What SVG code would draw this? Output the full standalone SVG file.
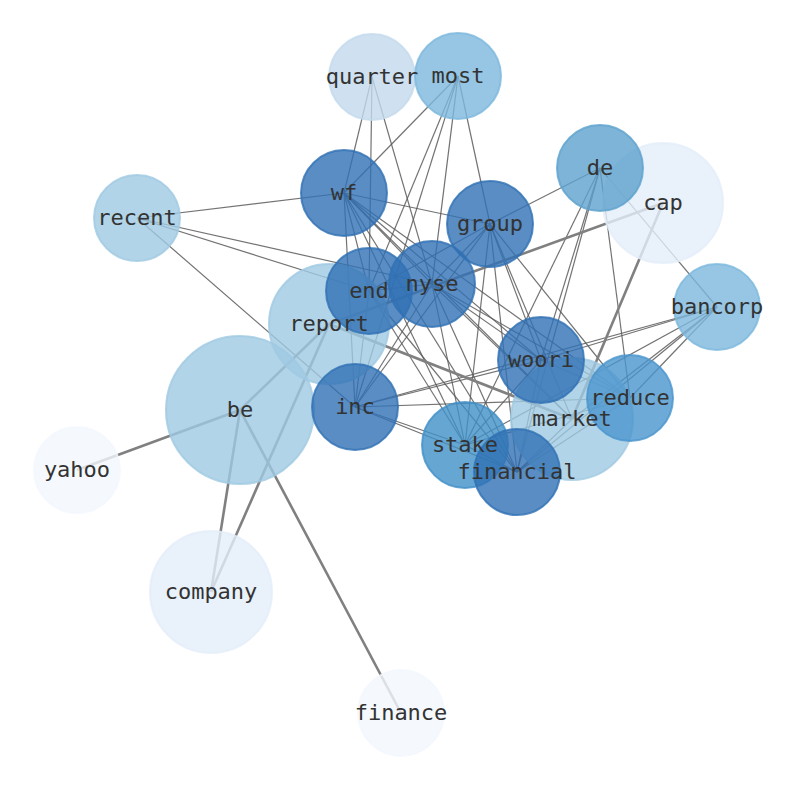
<svg xmlns="http://www.w3.org/2000/svg" width="794" height="790" viewBox="0 0 794 790">
<style>
.e{stroke:#5a5a5a;stroke-width:1.2;fill:none;stroke-opacity:0.85}
.t{stroke:#808080;stroke-width:2.6;fill:none}
.n circle{stroke-width:2;fill-opacity:0.8;stroke-opacity:0.8}
.n text{font-family:"DejaVu Sans Mono","Liberation Mono",monospace;font-size:22px;fill:#333;text-anchor:middle}
.c0 circle{fill:#f2f7fe;stroke:#f2f7fe}
.c1 circle{fill:#e3edf9;stroke:#e3edf9}
.c2 circle{fill:#c3d9ec;stroke:#c3d9ec}
.c3 circle{fill:#9fc9e2;stroke:#9fc9e2}
.c4 circle{fill:#7cb8dd;stroke:#7cb8dd}
.c5 circle{fill:#5ca1cd;stroke:#5ca1cd}
.c6 circle{fill:#4a95cd;stroke:#4a95cd}
.c7 circle{fill:#4090c8;stroke:#4090c8}
.c8 circle{fill:#3070b4;stroke:#3070b4}
</style>
<rect width="794" height="790" fill="#fff"/>
<g id="edges">
<line class="e" x1="372" y1="77" x2="344" y2="193"/>
<line class="e" x1="372" y1="77" x2="369" y2="291"/>
<line class="e" x1="372" y1="77" x2="432" y2="284"/>
<line class="e" x1="458" y1="76" x2="344" y2="193"/>
<line class="e" x1="458" y1="76" x2="369" y2="291"/>
<line class="e" x1="458" y1="76" x2="355" y2="407"/>
<line class="e" x1="458" y1="76" x2="432" y2="284"/>
<line class="e" x1="458" y1="76" x2="490" y2="224"/>
<line class="e" x1="137" y1="218" x2="344" y2="193"/>
<line class="e" x1="137" y1="218" x2="369" y2="291"/>
<line class="e" x1="137" y1="218" x2="432" y2="284"/>
<line class="e" x1="137" y1="218" x2="355" y2="407"/>
<line class="e" x1="344" y1="193" x2="490" y2="224"/>
<line class="e" x1="344" y1="193" x2="369" y2="291"/>
<line class="e" x1="344" y1="193" x2="355" y2="407"/>
<line class="e" x1="344" y1="193" x2="432" y2="284"/>
<line class="e" x1="344" y1="193" x2="541" y2="360"/>
<line class="e" x1="344" y1="193" x2="572" y2="419"/>
<line class="e" x1="344" y1="193" x2="465" y2="445"/>
<line class="e" x1="344" y1="193" x2="517" y2="472"/>
<line class="e" x1="344" y1="193" x2="630" y2="398"/>
<line class="e" x1="490" y1="224" x2="600" y2="168"/>
<line class="e" x1="490" y1="224" x2="432" y2="284"/>
<line class="e" x1="490" y1="224" x2="369" y2="291"/>
<line class="e" x1="490" y1="224" x2="355" y2="407"/>
<line class="e" x1="490" y1="224" x2="541" y2="360"/>
<line class="e" x1="490" y1="224" x2="465" y2="445"/>
<line class="e" x1="490" y1="224" x2="517" y2="472"/>
<line class="e" x1="490" y1="224" x2="572" y2="419"/>
<line class="e" x1="490" y1="224" x2="630" y2="398"/>
<line class="e" x1="600" y1="168" x2="541" y2="360"/>
<line class="e" x1="600" y1="168" x2="465" y2="445"/>
<line class="e" x1="600" y1="168" x2="517" y2="472"/>
<line class="e" x1="600" y1="168" x2="630" y2="398"/>
<line class="e" x1="600" y1="168" x2="717" y2="307"/>
<line class="e" x1="432" y1="284" x2="369" y2="291"/>
<line class="e" x1="432" y1="284" x2="355" y2="407"/>
<line class="e" x1="432" y1="284" x2="541" y2="360"/>
<line class="e" x1="432" y1="284" x2="465" y2="445"/>
<line class="e" x1="432" y1="284" x2="517" y2="472"/>
<line class="e" x1="432" y1="284" x2="572" y2="419"/>
<line class="e" x1="432" y1="284" x2="630" y2="398"/>
<line class="e" x1="369" y1="291" x2="355" y2="407"/>
<line class="e" x1="369" y1="291" x2="465" y2="445"/>
<line class="e" x1="369" y1="291" x2="517" y2="472"/>
<line class="e" x1="355" y1="407" x2="541" y2="360"/>
<line class="e" x1="355" y1="407" x2="630" y2="398"/>
<line class="e" x1="355" y1="407" x2="465" y2="445"/>
<line class="e" x1="355" y1="407" x2="517" y2="472"/>
<line class="e" x1="355" y1="407" x2="717" y2="307"/>
<line class="e" x1="541" y1="360" x2="465" y2="445"/>
<line class="e" x1="541" y1="360" x2="517" y2="472"/>
<line class="e" x1="541" y1="360" x2="630" y2="398"/>
<line class="e" x1="541" y1="360" x2="717" y2="307"/>
<line class="e" x1="717" y1="307" x2="465" y2="445"/>
<line class="e" x1="717" y1="307" x2="517" y2="472"/>
<line class="e" x1="717" y1="307" x2="572" y2="419"/>
<line class="e" x1="717" y1="307" x2="630" y2="398"/>
<line class="e" x1="630" y1="398" x2="465" y2="445"/>
<line class="e" x1="630" y1="398" x2="517" y2="472"/>
<line class="e" x1="465" y1="445" x2="517" y2="472"/>
<line class="e" x1="572" y1="419" x2="517" y2="472"/>
<line class="t" x1="240" y1="410" x2="77" y2="470"/>
<line class="t" x1="240" y1="410" x2="401" y2="713"/>
<line class="t" x1="240" y1="410" x2="211" y2="592"/>
<line class="t" x1="240" y1="410" x2="329" y2="324"/>
<line class="t" x1="329" y1="324" x2="211" y2="592"/>
<line class="t" x1="663" y1="203" x2="329" y2="324"/>
<line class="t" x1="663" y1="203" x2="572" y2="419"/>
<line class="t" x1="329" y1="324" x2="572" y2="419"/>
</g>
<g id="node-cap" class="n c1"><circle cx="663" cy="203" r="60"/></g>
<g id="node-company" class="n c1"><circle cx="211" cy="592" r="61"/></g>
<g id="node-yahoo" class="n c0"><circle cx="77" cy="470" r="43"/></g>
<g id="node-finance" class="n c0"><circle cx="401" cy="713" r="43"/></g>
<g id="node-be" class="n c3"><circle cx="240" cy="410" r="74"/></g>
<g id="node-report" class="n c3"><circle cx="329" cy="324" r="60"/></g>
<g id="node-market" class="n c3"><circle cx="572" cy="419" r="61"/></g>
<g id="node-recent" class="n c3"><circle cx="137" cy="218" r="43"/></g>
<g id="node-quarter" class="n c2"><circle cx="372" cy="77" r="43"/></g>
<g id="node-most" class="n c4"><circle cx="458" cy="76" r="43"/></g>
<g id="node-bancorp" class="n c4"><circle cx="717" cy="307" r="43"/></g>
<g id="node-de" class="n c5"><circle cx="600" cy="168" r="43"/></g>
<g id="node-reduce" class="n c6"><circle cx="630" cy="398" r="43"/></g>
<g id="node-stake" class="n c7"><circle cx="465" cy="445" r="43"/></g>
<g id="node-wf" class="n c8"><circle cx="344" cy="193" r="43"/></g>
<g id="node-group" class="n c8"><circle cx="490" cy="224" r="43"/></g>
<g id="node-end" class="n c8"><circle cx="369" cy="291" r="43"/></g>
<g id="node-nyse" class="n c8"><circle cx="432" cy="284" r="43"/></g>
<g id="node-woori" class="n c8"><circle cx="541" cy="360" r="43"/></g>
<g id="node-inc" class="n c8"><circle cx="355" cy="407" r="43"/></g>
<g id="node-financial" class="n c8"><circle cx="517" cy="472" r="43"/></g>
<g id="labels" class="n">
<text x="663" y="210">cap</text>
<text x="211" y="599">company</text>
<text x="77" y="477">yahoo</text>
<text x="401" y="720">finance</text>
<text x="240" y="417">be</text>
<text x="329" y="331">report</text>
<text x="572" y="426">market</text>
<text x="137" y="225">recent</text>
<text x="372" y="84">quarter</text>
<text x="458" y="83">most</text>
<text x="717" y="314">bancorp</text>
<text x="600" y="175">de</text>
<text x="630" y="405">reduce</text>
<text x="465" y="452">stake</text>
<text x="344" y="200">wf</text>
<text x="490" y="231">group</text>
<text x="369" y="298">end</text>
<text x="432" y="291">nyse</text>
<text x="541" y="367">woori</text>
<text x="355" y="414">inc</text>
<text x="517" y="479">financial</text>
</g>
</svg>
